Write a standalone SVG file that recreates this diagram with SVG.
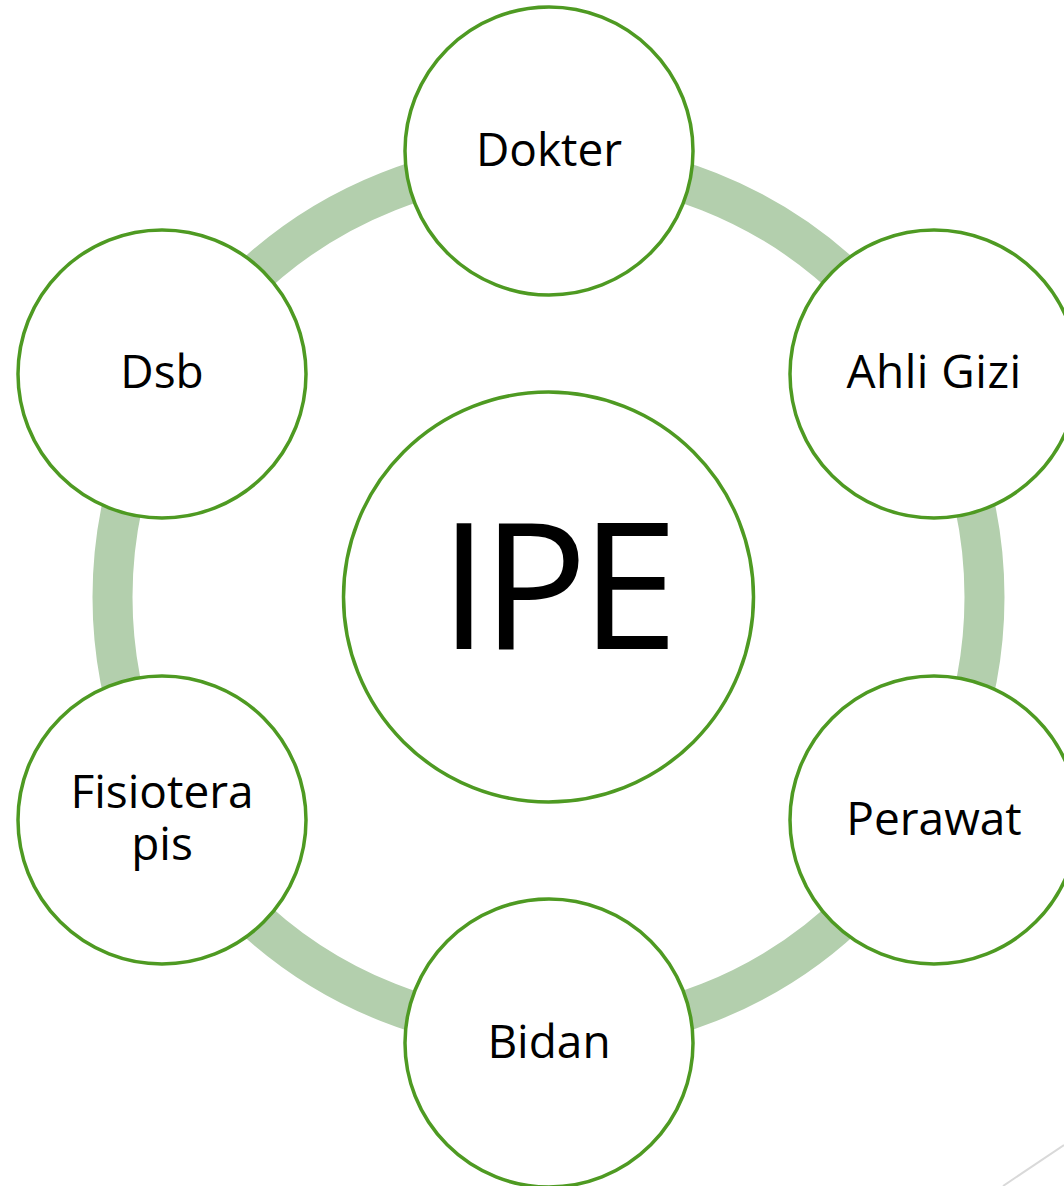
<svg xmlns="http://www.w3.org/2000/svg" width="1064" height="1186" viewBox="0 0 1064 1186">
<style>
.node{fill:#ffffff;stroke:#4e9a22;stroke-width:3.5}
.lbl{font-family:"Open Sans","DejaVu Sans",sans-serif;font-size:46px;fill:#000000;text-anchor:middle}
.big{font-family:"Open Sans","DejaVu Sans",sans-serif;font-size:176px;fill:#000000;text-anchor:middle;letter-spacing:-7px}
</style>
<rect width="1064" height="1186" fill="#ffffff"/>
<line x1="1003" y1="1186" x2="1064" y2="1145" stroke="#d9d9d9" stroke-width="2"/>
<g id="connectors">
<circle cx="548.5" cy="597" r="436" fill="none" stroke="#b3cfad" stroke-width="40"/>
</g>
<g id="node-ipe">
<circle class="node" cx="548.5" cy="597" r="205"/>
<text class="big" x="555.5" y="649">IPE</text>
</g>
<g id="node-dokter">
<circle class="node" cx="549" cy="151" r="144"/>
<text class="lbl" x="549" y="166">Dokter</text>
</g>
<g id="node-ahli-gizi">
<circle class="node" cx="934" cy="374" r="144"/>
<text class="lbl" x="934" y="388" letter-spacing="0.5">Ahli Gizi</text>
</g>
<g id="node-perawat">
<circle class="node" cx="934" cy="820" r="144"/>
<text class="lbl" x="934" y="835">Perawat</text>
</g>
<g id="node-bidan">
<circle class="node" cx="549" cy="1043" r="144"/>
<text class="lbl" x="549" y="1058">Bidan</text>
</g>
<g id="node-fisioterapis">
<circle class="node" cx="162" cy="820" r="144"/>
<text class="lbl"><tspan x="162" y="808">Fisiotera</tspan><tspan x="162" y="860">pis</tspan></text>
</g>
<g id="node-dsb">
<circle class="node" cx="162" cy="374" r="144"/>
<text class="lbl" x="162" y="388">Dsb</text>
</g>
</svg>
